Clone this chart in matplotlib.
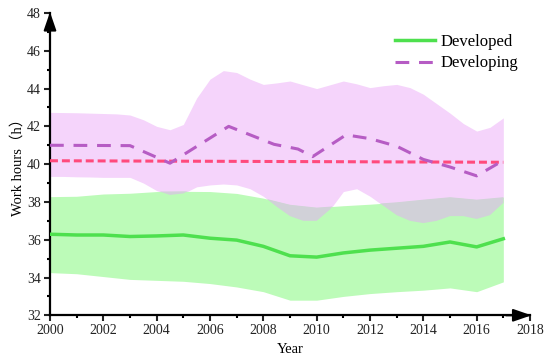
import numpy as np
import matplotlib
matplotlib.use('Agg')
import matplotlib.pyplot as plt
from matplotlib.ticker import MultipleLocator

plt.rcParams['font.family'] = ['Liberation Serif', 'Noto Sans CJK SC']

# Developed countries: mean and band, yearly
dev_years = [2000, 2001, 2002, 2003, 2004, 2005, 2006, 2007, 2008,
             2009, 2010, 2011, 2012, 2013, 2014, 2015, 2016, 2017]
dev_mean = [36.29, 36.25, 36.25, 36.17, 36.2, 36.25, 36.08, 35.98, 35.65,
            35.15, 35.08, 35.3, 35.45, 35.55, 35.65, 35.88, 35.62, 36.05]
dev_upper = [38.28, 38.3, 38.42, 38.46, 38.55, 38.56, 38.55, 38.45, 38.2,
             37.85, 37.7, 37.8, 37.88, 37.98, 38.12, 38.25, 38.12, 38.25]
dev_lower = [34.26, 34.2, 34.05, 33.9, 33.85, 33.8, 33.68, 33.5, 33.25,
             32.8, 32.8, 33.0, 33.15, 33.25, 33.33, 33.45, 33.25, 33.77]

# Developing countries: band on half-year steps
ing_band_years = [2000, 2000.5, 2001, 2001.5, 2002, 2002.5, 2003, 2003.5, 2004,
                  2004.5, 2005, 2005.5, 2006, 2006.5, 2007, 2007.5, 2008, 2008.5,
                  2009, 2009.5, 2010, 2010.5, 2011, 2011.5, 2012, 2012.5, 2013,
                  2013.5, 2014, 2014.5, 2015, 2015.5, 2016, 2016.5, 2017]
ing_upper = [42.74, 42.73, 42.72, 42.7, 42.68, 42.66, 42.6, 42.35, 42.0,
             41.82, 42.1, 43.5, 44.5, 44.95, 44.85, 44.5, 44.22, 44.3,
             44.4, 44.2, 44.0, 44.2, 44.4, 44.25, 44.05, 44.15, 44.22,
             44.05, 43.7, 43.2, 42.7, 42.15, 41.75, 41.95, 42.45]
ing_lower = [39.35, 39.35, 39.33, 39.32, 39.3, 39.3, 39.3, 39.0, 38.6,
             38.37, 38.45, 38.8, 38.9, 38.95, 38.9, 38.7, 38.3, 37.75,
             37.25, 37.0, 37.0, 37.6, 38.55, 38.7, 38.3, 37.8, 37.3,
             37.0, 36.88, 37.0, 37.25, 37.25, 37.1, 37.3, 37.95]

# Developing mean line
ing_years = [2000, 2003, 2004.5, 2006.7, 2008.4, 2009.3, 2009.85, 2011.1,
             2012, 2013, 2014, 2015, 2016, 2017]
ing_mean = [41.0, 40.98, 40.05, 42.0, 41.05, 40.8, 40.4, 41.55,
            41.35, 40.95, 40.25, 39.85, 39.38, 40.2]

# trend line
trend_years = [2000, 2017]
trend_vals = [40.18, 40.1]

fig = plt.figure(figsize=(5.5, 3.64), dpi=100)
ax = fig.add_axes([50/550, 1-315.3/364, 480/550, 302.3/364])

ax.fill_between(ing_band_years, ing_lower, ing_upper, color='#F5D4FB', lw=0, zorder=1)
ax.fill_between(dev_years, dev_lower, dev_upper, color='#BCFBB8', lw=0, zorder=2)

# overlap of the two bands shown in grey
ov_x = np.array(ing_band_years)
ov_top = np.interp(ov_x, dev_years, dev_upper)
ov_bot = np.array(ing_lower)
ax.fill_between(ov_x, ov_bot, ov_top, where=ov_top > ov_bot, interpolate=True,
                color='#D1D1D8', lw=0, zorder=3)

ax.plot(dev_years, dev_mean, color='#4EE04E', lw=2.5, zorder=5, label='Developed')
ax.plot(ing_years, ing_mean, color='#B65CC4', lw=2.2, dashes=(4.5, 3.2), zorder=5,
        label='Developing')
ax.plot(trend_years, trend_vals, color='#FF4A7C', lw=2.2, dashes=(2.6, 1.3), zorder=4)

ax.set_xlim(2000, 2018)
ax.set_ylim(32, 48)
ax.xaxis.set_major_locator(MultipleLocator(2))
ax.xaxis.set_minor_locator(MultipleLocator(1))
ax.yaxis.set_major_locator(MultipleLocator(2))
ax.yaxis.set_minor_locator(MultipleLocator(1))
ax.tick_params(which='major', direction='out', length=4.5, width=1.5,
               labelsize=10, colors='#222222', pad=2)
ax.tick_params(which='minor', direction='out', length=2.5, width=1.5)

for s in ['top', 'right']:
    ax.spines[s].set_visible(False)
for s in ['left', 'bottom']:
    ax.spines[s].set_linewidth(1.6)

# arrow heads on the axes
ax.annotate('', xy=(1.003, 0), xycoords='axes fraction', xytext=(0.95, 0),
            arrowprops=dict(arrowstyle='-|>,head_length=1.1,head_width=0.38',
                            color='k', lw=1.5, shrinkA=0, shrinkB=0,
                            mutation_scale=10), annotation_clip=False)
ax.annotate('', xy=(0, 1.003), xycoords='axes fraction', xytext=(0, 0.95),
            arrowprops=dict(arrowstyle='-|>,head_length=1.1,head_width=0.38',
                            color='k', lw=1.5, shrinkA=0, shrinkB=0,
                            mutation_scale=10), annotation_clip=False)

ax.set_xlabel('Year', fontsize=10.5, labelpad=4)
ax.set_ylabel('Work hours（h）', fontsize=10.5, labelpad=2)

ax.legend(loc='upper left', bbox_to_anchor=(0.719, 0.93), frameon=False,
          fontsize=12, borderpad=0, borderaxespad=0, handlelength=2.4,
          handletextpad=0.3, labelspacing=0.32)

fig.savefig('out.png', dpi=100)
